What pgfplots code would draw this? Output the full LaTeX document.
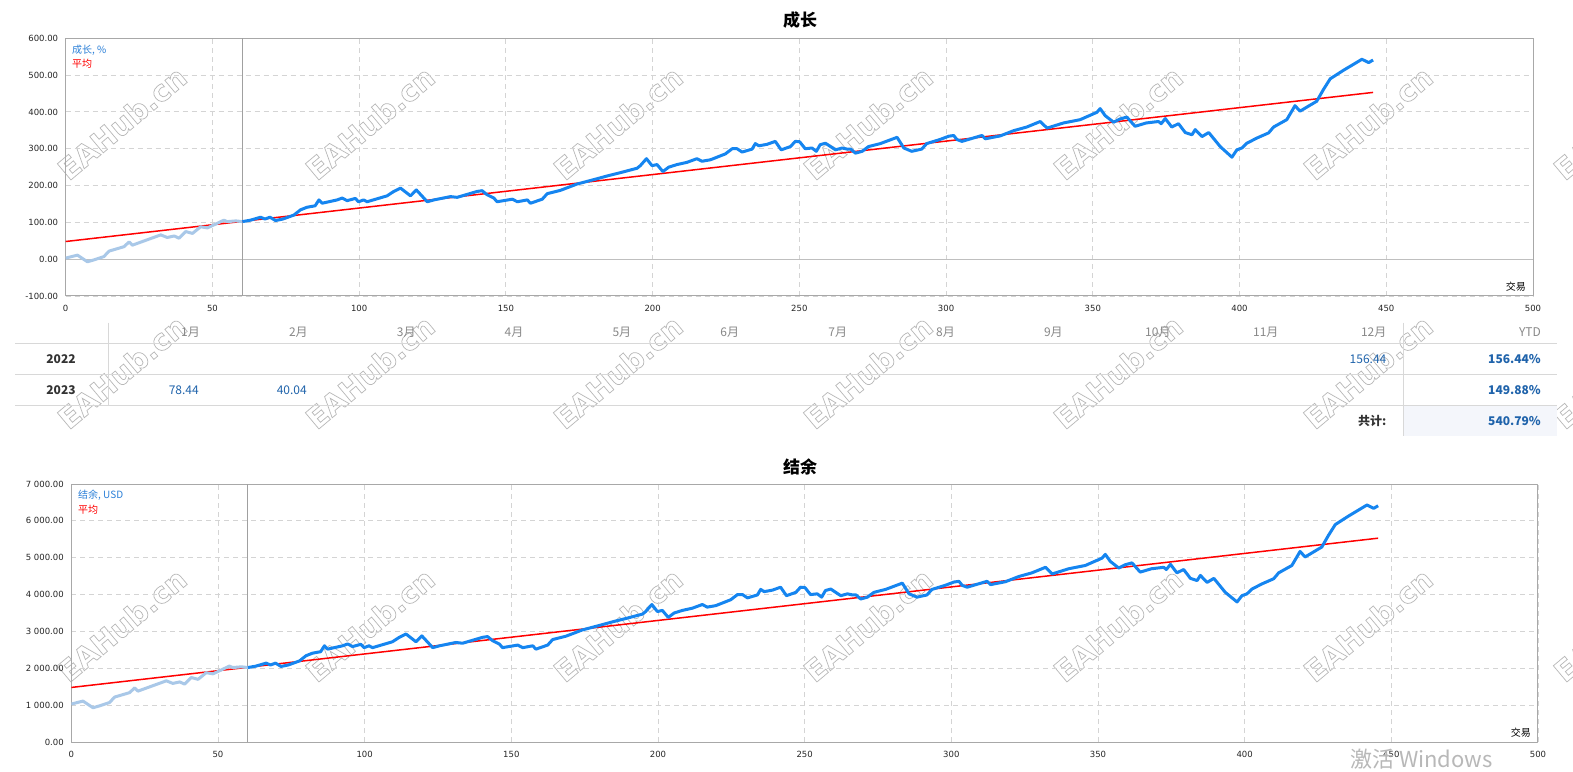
\documentclass[border=0pt]{standalone}
\usepackage{pgfplots}
\pgfplotsset{compat=1.18}
\usepackage{pgfplotstable}
\usepackage{fontspec}
\setmainfont{DejaVu Sans}
\newfontfamily\cjk{Noto Sans CJK SC}
\definecolor{darkblue}{HTML}{1585F0}
\definecolor{lightblue}{HTML}{A9C8E8}
\definecolor{framegray}{HTML}{A8A8A8}
\definecolor{gridgray}{HTML}{D4D4D4}
\definecolor{vgray}{HTML}{A0A0A0}
\definecolor{valblue}{HTML}{1F63AB}
\definecolor{hdrgray}{HTML}{888888}
\definecolor{rowdark}{HTML}{333333}
\definecolor{linegray}{HTML}{D8D8D8}
\definecolor{totbg}{HTML}{F4F6FB}
\definecolor{wmgray}{HTML}{B8B8B8}
\definecolor{legblue}{HTML}{2A7FD8}

% growth, %  (light part: trades 0-60)
\pgfplotstableread{
t v
0 3
4 11
7.4 -7
9.6 -2
13 7
14.8 22
19.9 34
21.6 47
22.7 38
32.4 66
34.6 59
37 63
38.6 57
40.9 75
43.2 70
46 88
48.3 85
51 95
53.9 106
55 102
58 104
60.2 102
}\growthA

\pgfplotstableread{
t v
60.2 102
63 106
66.4 114
67.9 109
69.6 114
71.5 105
74 109
77.8 120
80 134
82.2 141
85 145
86.3 161
87.4 152
92.5 161
94.2 166
95.9 159
98.7 165
99.8 156
101.5 161
102.7 156
109.5 172
111.8 184
114.1 193
117.5 172
119.5 188
123.2 156
125.5 161
131.1 170
133.4 168
140.2 184
141.9 186
143.6 175
145.9 166
147 156
152.2 163
153.9 156
157.3 161
158.4 152
162.4 163
164.1 178
168.6 187
174.2 204
179.9 216
184.5 226
189 235
194.7 247
195.8 254
197.9 273
199.8 254
201.5 257
203.5 238
205.5 250
208.3 257
211.7 263
215.1 273
216.8 266
219.7 270
224.8 286
227.1 300
228.8 300
230.5 291
233.9 299
235.0 314
236.2 308
239 312
241.8 320
243.8 297
247 306
248.6 320
250.1 319
252 300
254.3 302
255.8 293
257.1 311
258.9 315
262.3 297
264.6 302
266.3 299
267.5 299
269.1 288
271.4 293
273.6 306
277.6 314
283.3 331
285.6 302
288.3 293
291.7 299
293.4 314
297.9 325
300.9 334
302.6 336
303.7 325
305.4 320
312.2 336
313.4 327
318.5 335
323 349
327.5 359
332.1 374
334.4 356
340 370
345.7 379
351.4 399
352.5 409
354.2 390
357.1 372
359.3 381
361.6 386
364.4 361
368.2 370
372.4 374
373.3 368
374.7 382
376.9 359
379.2 368
381.5 344
383.8 338
384.9 352
387.2 333
389.5 344
393.4 306
397.4 277
399.1 297
400.8 302
402.5 315
405.9 329
409.9 343
411.6 359
416.1 379
418.9 417
420.6 402
426.3 429
428.6 461
430.9 490
435.4 513
441.7 543
444 534
445.5 541
}\growthB

% balance, USD
\pgfplotstableread{
t v
0 1030
4 1110
7.4 930
9.6 980
13 1070
14.8 1220
19.9 1340
21.6 1470
22.7 1380
32.4 1660
34.6 1590
37 1630
38.6 1570
40.9 1750
43.2 1700
46 1880
48.3 1850
51 1950
53.9 2060
55 2020
58 2040
60.2 2020
}\balA

\pgfplotstableread{
t v
60.2 2020
63 2060
66.4 2140
67.9 2090
69.6 2140
71.5 2050
74 2090
77.8 2200
80 2340
82.2 2410
85 2450
86.3 2610
87.4 2520
92.5 2610
94.2 2660
95.9 2590
98.7 2650
99.8 2560
101.5 2610
102.7 2560
109.5 2720
111.8 2840
114.1 2930
117.5 2720
119.5 2880
123.2 2560
125.5 2610
131.1 2700
133.4 2680
140.2 2840
141.9 2860
143.6 2750
145.9 2660
147 2560
152.2 2630
153.9 2560
157.3 2610
158.4 2520
162.4 2630
164.1 2780
168.6 2870
174.2 3040
179.9 3160
184.5 3260
189 3350
194.7 3470
195.8 3540
197.9 3730
199.8 3540
201.5 3570
203.5 3380
205.5 3500
208.3 3570
211.7 3630
215.1 3730
216.8 3660
219.7 3700
224.8 3860
227.1 4000
228.8 4000
230.5 3910
233.9 3990
235.0 4140
236.2 4080
239 4120
241.8 4200
243.8 3970
247 4060
248.6 4200
250.1 4190
252 4000
254.3 4020
255.8 3930
257.1 4110
258.9 4150
262.3 3970
264.6 4020
266.3 3990
267.5 3990
269.1 3880
271.4 3930
273.6 4060
277.6 4140
283.3 4310
285.6 4020
288.3 3930
291.7 3990
293.4 4140
297.9 4250
300.9 4340
302.6 4360
303.7 4250
305.4 4200
312.2 4360
313.4 4270
318.5 4350
323 4490
327.5 4590
332.1 4740
334.4 4560
340 4700
345.7 4790
351.4 4990
352.5 5090
354.2 4900
357.1 4720
359.3 4810
361.6 4860
364.4 4610
368.2 4700
372.4 4740
373.3 4680
374.7 4820
376.9 4590
379.2 4680
381.5 4440
383.8 4380
384.9 4520
387.2 4330
389.5 4440
393.4 4060
397.4 3800
399.1 3970
400.8 4020
402.5 4150
405.9 4290
409.9 4430
411.6 4590
416.1 4790
418.9 5170
420.6 5020
426.3 5290
428.6 5610
430.9 5900
435.4 6130
441.7 6430
444 6340
445.5 6410
}\balB

\pgfplotsset{
  mychart/.style={
    scale only axis,
    anchor=south west,
    xmin=0, xmax=500,
    xtick={0,50,...,500},
    axis line style={draw=framegray, line width=1pt},
    major tick length=0pt,
    grid=major,
    major grid style={draw=gridgray, dash pattern=on 5pt off 4pt, line width=0.9pt},
    tick label style={font=\fontsize{8.5}{10}\selectfont, text=black!85},
    /pgf/number format/assume math mode=true,
    xticklabel style={inner sep=0pt, yshift=-9pt},
    yticklabel style={inner sep=0pt, xshift=-7.4pt},
    line join=round,
  }
}

\newcommand{\wm}{\special{pdf:code 1 Tr 0.7 w}EAHub.cn\special{pdf:code 0 Tr}}

\begin{document}
\begin{tikzpicture}[x=1pt,y=1pt]
\path[use as bounding box] (0,0) rectangle (1573,771);
\fill[white] (0,0) rectangle (1573,771);

% watermarks (outlined text)
\foreach \wx in {122,370,618,868,1118,1368,1618}{
  \foreach \wy in {648,399,146}{
    \node[rotate=40, text=wmgray, font=\fontsize{29}{30}\selectfont\bfseries, inner sep=0pt] at (\wx,\wy) {\wm};
  }
}

% ---------- top chart ----------
\begin{axis}[mychart,
  at={(65.7pt,475pt)}, width=1467.3pt, height=257.7pt,
  ymin=-100, ymax=600,
  ytick={-100,0,100,200,300,400,500,600},
  yticklabels={-100.00,0.00,100.00,200.00,300.00,400.00,500.00,600.00},
]
\addplot[draw=gridgray!90!black, line width=1pt, forget plot] coordinates {(0,0) (500,0)};
\addplot[draw=vgray, line width=1pt, forget plot] coordinates {(60.2,-100) (60.2,600)};
\addplot[red, line width=1.5pt] coordinates {(0,48) (445.5,453)};
\addplot[lightblue, line width=3pt] table[x=t,y=v]{\growthA};
\addplot[darkblue, line width=3pt] table[x=t,y=v]{\growthB};
\end{axis}

% ---------- bottom chart ----------
\begin{axis}[mychart,
  at={(71.3pt,29pt)}, width=1466.7pt, height=258pt,
  ymin=0, ymax=7000,
  ytick={0,1000,2000,3000,4000,5000,6000,7000},
  yticklabels={0.00,1 000.00,2 000.00,3 000.00,4 000.00,5 000.00,6 000.00,7 000.00},
]
\addplot[draw=vgray, line width=1pt, forget plot] coordinates {(60.2,0) (60.2,7000)};
\addplot[red, line width=1.5pt] coordinates {(0,1480) (445.5,5530)};
\addplot[lightblue, line width=3pt] table[x=t,y=v]{\balA};
\addplot[darkblue, line width=3pt] table[x=t,y=v]{\balB};
\end{axis}

% titles
\node[font=\cjk\bfseries\fontsize{17}{20}\selectfont, text=black] at (800,751) {成长};
\node[font=\cjk\bfseries\fontsize{17}{20}\selectfont, text=black] at (800,304) {结余};

% in-plot legends
\node[anchor=west, inner sep=0pt, font=\cjk\fontsize{10}{12}\selectfont, text=legblue] at (72,720.5) {成长, \%};
\node[anchor=west, inner sep=0pt, font=\cjk\fontsize{10}{12}\selectfont, text=red] at (72,707) {平均};
\node[anchor=west, inner sep=0pt, font=\cjk\fontsize{10}{12}\selectfont, text=legblue] at (78,275.5) {结余, USD};
\node[anchor=west, inner sep=0pt, font=\cjk\fontsize{10}{12}\selectfont, text=red] at (78,261) {平均};
\node[anchor=east, inner sep=0pt, font=\cjk\fontsize{10}{12}\selectfont, text=black] at (1526,484) {交易};
\node[anchor=east, inner sep=0pt, font=\cjk\fontsize{10}{12}\selectfont, text=black] at (1531,38) {交易};

% ---------- monthly table ----------
\fill[totbg] (1403,335) rectangle (1557,365.7);
\draw[linegray, line width=1pt] (15,427.7) -- (1557,427.7);
\draw[linegray, line width=1pt] (15,396.7) -- (1557,396.7);
\draw[linegray, line width=1pt] (15,365.7) -- (1557,365.7);
\draw[linegray, line width=1pt] (108,448.3) -- (108,365.7);
\draw[linegray, line width=1pt] (1403,448.3) -- (1403,335);

\foreach \m/\xr in {1/200,2/307.9,3/415.7,4/523.6,5/631.4,6/739.3,7/847.2,8/955,9/1062.9,10/1170.7,11/1278.6,12/1386.5}{
  \node[anchor=mid east, inner sep=0pt, font=\cjk\fontsize{12}{14}\selectfont, text=hdrgray] at (\xr,437) {\m 月};
}
\node[anchor=mid east, inner sep=0pt, font=\cjk\fontsize{12}{14}\selectfont, text=hdrgray] at (1541,437) {YTD};

\node[anchor=mid, inner sep=0pt, font=\cjk\bfseries\fontsize{12}{14}\selectfont, text=rowdark] at (61,410) {2022};
\node[anchor=mid, inner sep=0pt, font=\cjk\bfseries\fontsize{12}{14}\selectfont, text=rowdark] at (61,379) {2023};

\node[anchor=mid east, inner sep=0pt, font=\cjk\fontsize{12}{14}\selectfont, text=valblue] at (1386.5,410) {156.44};
\node[anchor=mid east, inner sep=0pt, font=\cjk\bfseries\fontsize{12}{14}\selectfont, text=valblue] at (1541,410) {156.44\%};
\node[anchor=mid east, inner sep=0pt, font=\cjk\fontsize{12}{14}\selectfont, text=valblue] at (199,379) {78.44};
\node[anchor=mid east, inner sep=0pt, font=\cjk\fontsize{12}{14}\selectfont, text=valblue] at (307,379) {40.04};
\node[anchor=mid east, inner sep=0pt, font=\cjk\bfseries\fontsize{12}{14}\selectfont, text=valblue] at (1541,379) {149.88\%};
\node[anchor=mid east, inner sep=0pt, font=\cjk\bfseries\fontsize{12}{14}\selectfont, text=rowdark] at (1386.5,348.5) {共计:};
\node[anchor=mid east, inner sep=0pt, font=\cjk\bfseries\fontsize{12}{14}\selectfont, text=valblue] at (1541,348.5) {540.79\%};

% OS overlay text
\node[anchor=west, inner sep=0pt, font=\cjk\fontsize{22}{24}\selectfont, text=black!28] at (1350,12) {激活 Windows};
\end{tikzpicture}
\end{document}
